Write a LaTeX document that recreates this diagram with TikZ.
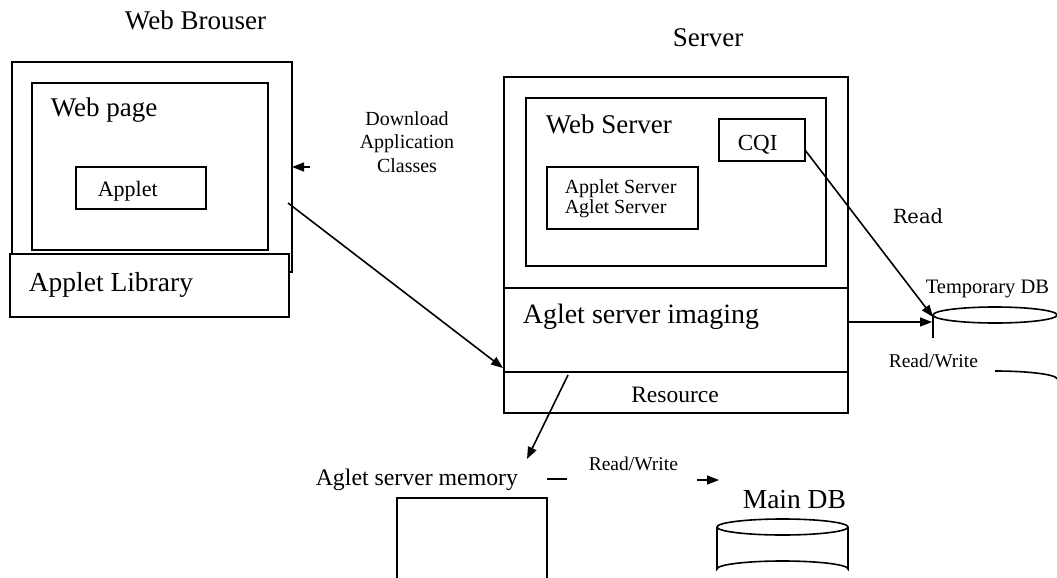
\documentclass[tikz,border=0pt]{standalone}
\usepackage{fontspec}
\setmainfont{Liberation Serif}
\newfontfamily\readfont{DejaVu Serif}
\usetikzlibrary{arrows.meta}
\newcommand\fsz[1]{\fontsize{#1}{#1}\selectfont}
\begin{document}
\begin{tikzpicture}[x=1pt,y=-1pt, line width=1.6pt,
  box/.style={draw, rectangle, inner sep=0pt, outer sep=0pt, anchor=north west, fill=white},
  lbl/.style={inner sep=0pt, anchor=base west},
  clbl/.style={inner sep=0pt, anchor=base},
  arr/.style={-{Triangle[length=12pt,width=9pt]}}]
\useasboundingbox (0,0) rectangle (1057,578);

% ---- Web browser ----
\node[clbl] (tbrowser) at (195.5,30) {\fsz{27}Web Brouser};
\node[box, minimum width=280pt, minimum height=210pt] (browser) at (12,62) {};
\node[box, minimum width=279pt, minimum height=63pt] (library) at (10,254) {};
\node[lbl] (tlibrary) at (28,291) {\fsz{27.5}Applet Library};
\node[box, minimum width=236pt, minimum height=167pt] (webpage) at (32,83) {};
\node[lbl] (twebpage) at (50,116) {\fsz{27}Web page};
\node[box, minimum width=130pt, minimum height=42pt] (applet) at (76,167) {};
\node[lbl] (tapplet) at (97,196) {\fsz{22}Applet};

% ---- Download text ----
\node[clbl] (dl1) at (407,125) {\fsz{20}Download};
\node[clbl] (dl2) at (407,148) {\fsz{20}Application};
\node[clbl] (dl3) at (407,172) {\fsz{20}Classes};

% ---- Server ----
\node[clbl] (tserver) at (708,47) {\fsz{27}Server};
\node[box, minimum width=344pt, minimum height=336pt] (server) at (504,77) {};
\coordinate (sepA) at (504,288);
\coordinate (sepB) at (504,372);
\draw (sepA) -- ++(344,0);
\draw (sepB) -- ++(344,0);
\node[box, minimum width=300pt, minimum height=168pt] (webserver) at (526,98) {};
\node[lbl] (twebserver) at (545,133) {\fsz{27}Web Server};
\node[box, minimum width=86pt, minimum height=42pt] (cqi) at (719,119) {};
\node[lbl] (tcqi) at (737,150) {\fsz{23}CQI};
\node[box, minimum width=151pt, minimum height=62pt] (appserver) at (547,167) {};
\node[lbl] (tapps1) at (564,193) {\fsz{20}Applet Server};
\node[lbl] (tapps2) at (564,213) {\fsz{20}Aglet Server};
\node[lbl] (timaging) at (522,323) {\fsz{28}Aglet server imaging};
\node[clbl] (tresource) at (675,402) {\fsz{23.5}Resource};

% ---- Temporary DB ----
\node[lbl] (tread) at (892,223) {\readfont\fsz{19.5}Read};
\node[lbl] (ttemp) at (925,293) {\fsz{20.5}Temporary DB};
\draw (995,315) ellipse [x radius=62, y radius=8];
\coordinate (tempdb) at (933,317);
\coordinate (tempdbh) at (932,322);
\draw (995,371) arc [start angle=270, end angle=360, x radius=62, y radius=8];
\coordinate (tickT) at (933,315);
\coordinate (tickB) at (933,338);
\draw (tickT) -- (tickB);
\node[lbl] (trw1) at (888,367) {\fsz{19.5}Read/Write};

% ---- bottom ----
\node[lbl] (tmemory) at (315,485) {\fsz{23.8}Aglet server memory};
\draw (397,580) -- (397,498) -- (547,498) -- (547,580);
\node[lbl] (trw2) at (588,470) {\fsz{19.5}Read/Write};
\coordinate (dashA) at (547,479);
\coordinate (dashB) at (567,479);
\draw (dashA) -- (dashB);
\coordinate (rwA) at (697,480);
\coordinate (rwB) at (719,480);
\draw[arr] (rwA) -- (rwB);

\node[lbl] (tmain) at (742,508) {\fsz{27.5}Main DB};
\draw (782.5,527) ellipse [x radius=65.5, y radius=8];
\draw (717,527) -- (717,569) arc [start angle=180, end angle=360, x radius=65.5, y radius=8] -- (848,527);

% ---- connectors ----
\coordinate (dlA) at (310,167);
\coordinate (dlB) at (292,167);
\draw[arr] (dlA) -- (dlB);
\coordinate (diagA) at (288,203);
\coordinate (diagB) at (503,368);
\draw[arr] (diagA) -- (diagB);
\coordinate (cqiOut) at (805,150);
\draw[arr] (cqiOut) -- (tempdb);
\coordinate (imgOut) at (848,322);
\draw[arr] (imgOut) -- (tempdbh);
\coordinate (resA) at (568,375);
\coordinate (resB) at (527,459);
\draw[arr] (resA) -- (resB);
\end{tikzpicture}
\end{document}
